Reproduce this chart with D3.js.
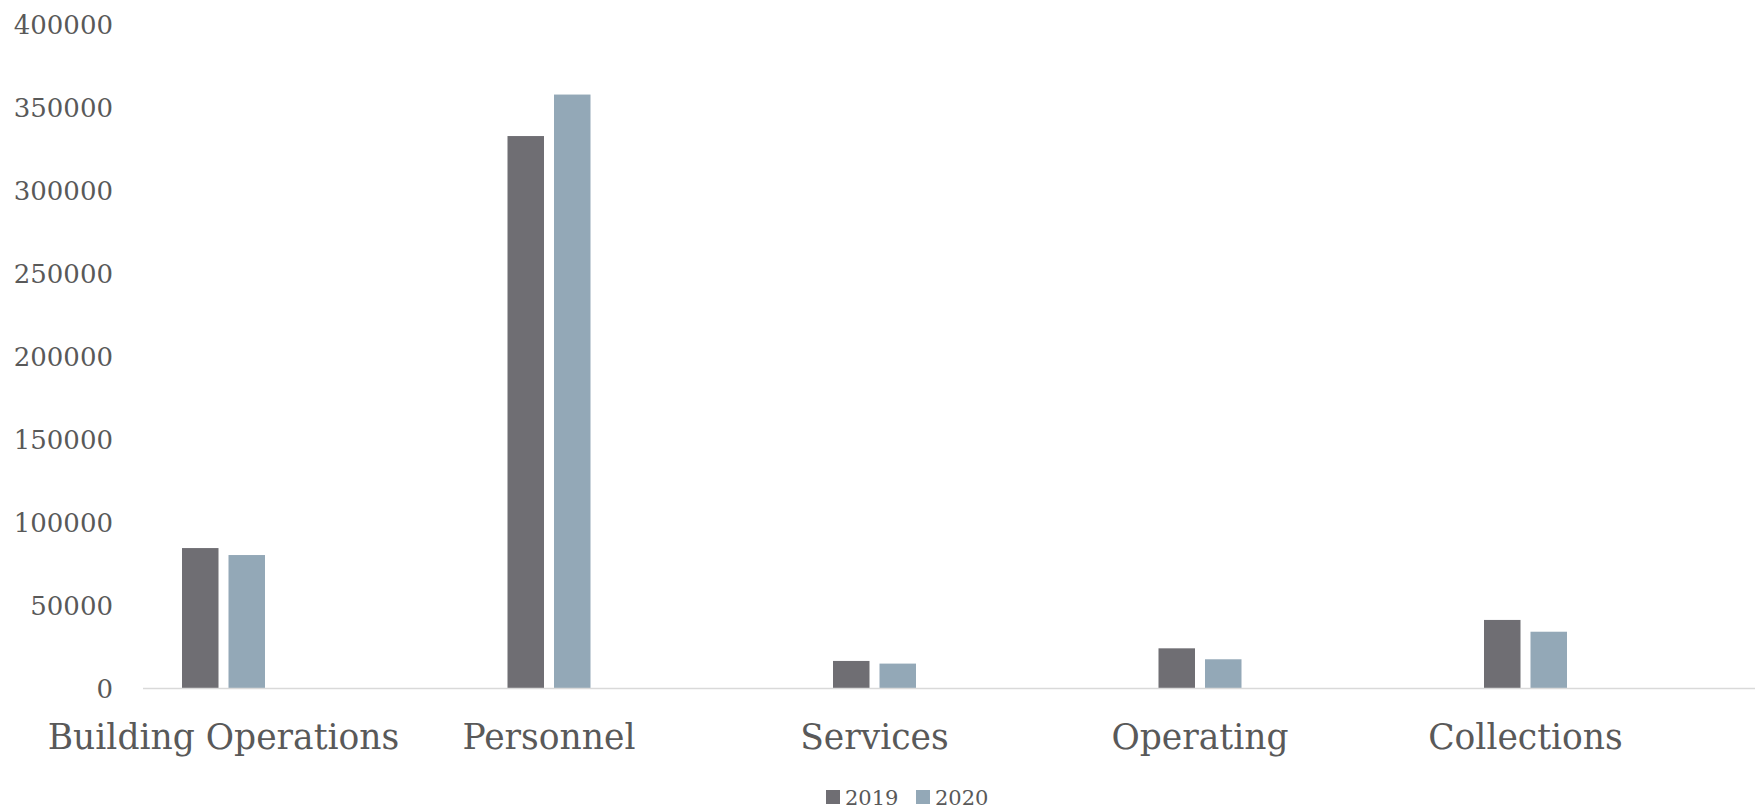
<!DOCTYPE html>
<html>
<head>
<meta charset="utf-8">
<script src="https://cdn.jsdelivr.net/npm/d3@7"></script>
<style>
    body { margin: 0; background: #fff; }
    svg text { font-family: "DejaVu Serif", serif; fill: #595959; }
</style>
</head>
<body>
<svg width="1755" height="811"></svg>
<script>
var categories = ["Building Operations", "Personnel", "Services", "Operating", "Collections"];
var years = ["2019", "2020"];
var values2019 = [84300, 332500, 16300, 23900, 41000];
var values2020 = [80100, 357500, 14700, 17300, 33900];
var yTicks = [0, 50000, 100000, 150000, 200000, 250000, 300000, 350000, 400000];
var colors = ["#6f6e73", "#93a8b7"];

document.addEventListener("DOMContentLoaded", () => {
    var svg = d3.select("svg"),
        width = +svg.attr("width"),
        height = +svg.attr("height");

    var series = [values2019, values2020];

    var y = d3.scaleLinear()
        .domain([0, 400000])
        .range([688, 24]);

    var x0 = d3.scaleBand()
        .domain(categories)
        .range([60.75, 1688.25]);

    var x1 = d3.scaleBand()
        .domain(years)
        .range([x0.bandwidth() / 2 - 41.5, x0.bandwidth() / 2 + 41.5])
        .paddingInner(0.215);

    // y tick labels only, Excel style: no axis line, no gridlines
    var yAxis = d3.axisLeft(y)
        .tickValues(yTicks)
        .tickSize(0)
        .tickPadding(0)
        .tickFormat(d3.format("d"));

    var ga = svg.append("g")
        .attr("transform", "translate(113,0)")
        .call(yAxis);
    ga.select(".domain").remove();
    ga.selectAll("text")
        .attr("font-size", 26)
        .attr("dy", "0.36em")
        .style("font-family", "DejaVu Serif")
        .attr("fill", "#595959");

    // bars
    var groups = svg.append("g")
        .selectAll("g")
        .data(categories)
        .enter()
        .append("g")
        .attr("transform", function(d) { return "translate(" + x0(d) + ",0)"; });

    groups.selectAll("rect")
        .data(function(d, i) {
            return years.map(function(yr, j) { return {year: yr, value: series[j][i], k: j}; });
        })
        .enter()
        .append("rect")
        .attr("x", function(d) { return x1(d.year); })
        .attr("width", x1.bandwidth())
        .attr("y", function(d) { return y(d.value); })
        .attr("height", function(d) { return y(0) - y(d.value); })
        .attr("fill", function(d) { return colors[d.k]; });

    // baseline
    svg.append("line")
        .attr("x1", 143)
        .attr("x2", width)
        .attr("y1", y(0) + 0.5)
        .attr("y2", y(0) + 0.5)
        .attr("stroke", "#d9d9d9")
        .attr("stroke-width", 1.5);

    // category labels
    svg.append("g")
        .selectAll("text")
        .data(categories)
        .enter()
        .append("text")
        .attr("x", function(d) { return x0(d) + x0.bandwidth() / 2; })
        .attr("y", 749)
        .attr("text-anchor", "middle")
        .attr("font-size", 34.5)
        .text(function(d) { return d; });

    // legend
    var legend = svg.append("g")
        .attr("transform", "translate(826,790)");

    var item = legend.selectAll("g")
        .data(years)
        .enter()
        .append("g")
        .attr("transform", function(d, i) { return "translate(" + (i * 90) + ",0)"; });

    item.append("rect")
        .attr("width", 14)
        .attr("height", 14)
        .attr("fill", function(d, i) { return colors[i]; });

    item.append("text")
        .attr("x", 19)
        .attr("y", 15)
        .attr("font-size", 21)
        .text(function(d) { return d; });
});
</script>
</body>
</html>
